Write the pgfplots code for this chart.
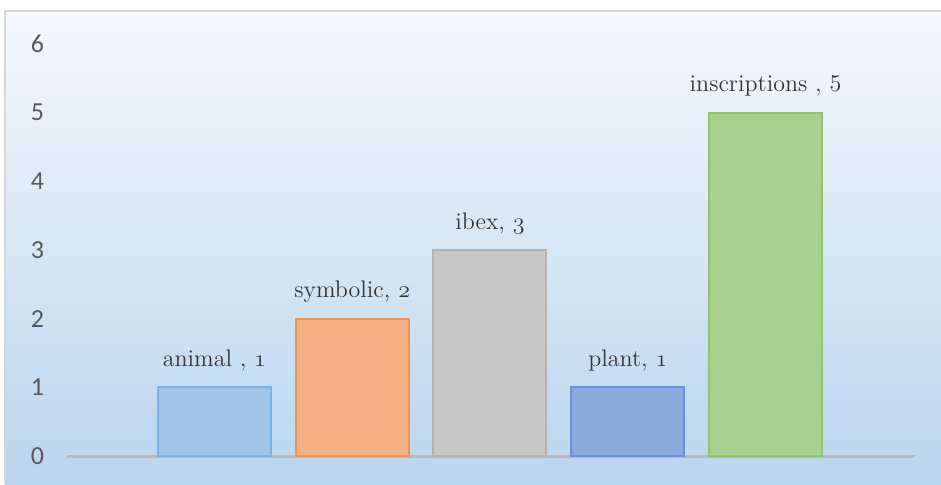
\documentclass[border=0pt]{standalone}
\usepackage{pgfplots}
\pgfplotsset{compat=1.18}
\usepackage{fontspec}
\newfontfamily\carlito{Carlito}
\newcommand{\osn}[1]{$\mathnormal{#1}$}
\definecolor{bgtop}{HTML}{F5F8FC}
\definecolor{bgbot}{HTML}{B9D5EE}
\definecolor{framec}{HTML}{D6D6D6}
\definecolor{tickc}{HTML}{595959}
\definecolor{labc}{HTML}{353535}
\definecolor{basec}{HTML}{BDB8B2}
\definecolor{aF}{HTML}{9FC4E8}\definecolor{aD}{HTML}{7EB1E3}
\definecolor{sF}{HTML}{F4B183}\definecolor{sD}{HTML}{F19451}
\definecolor{iF}{HTML}{C8C8C8}\definecolor{iD}{HTML}{B3B3B3}
\definecolor{pF}{HTML}{8EAADC}\definecolor{pD}{HTML}{6D8FDB}
\definecolor{nF}{HTML}{A9D18E}\definecolor{nD}{HTML}{8FC66D}
\begin{document}
\begin{tikzpicture}
\useasboundingbox (0,0) rectangle (470.5pt,242pt);
\fill[white] (0,0) rectangle (470.5pt,242pt);
\shade[top color=bgtop, bottom color=bgbot] (2.5pt,0) rectangle (470.5pt,236.5pt);
\draw[color=framec, line width=0.8pt] (2.5pt,0) -- (2.5pt,236.5pt) -- (470.5pt,236.5pt);
\begin{axis}[at={(33.5pt,14pt)}, anchor=south west, scale only axis,
  width=424pt, height=206pt,
  xmin=-1.07, xmax=5.085, ymin=0, ymax=6,
  ytick={0,1,2,3,4,5,6}, xtick=\empty,
  axis line style={draw=none}, major tick length=0pt,
  /pgf/number format/assume math mode=true,
  yticklabel style={font=\carlito\fontsize{13}{15}\selectfont, text=tickc, xshift=-8pt},
  clip=false, bar width=0.82, bar shift=0pt,
  nodes near coords style={font=\fontsize{12}{14}\selectfont, text=labc, yshift=4.2pt},
]
\draw[basec, line width=1.5pt] (rel axis cs:0,0) -- (rel axis cs:1,0);
\addplot[ybar, fill=aF, draw=aD, line width=1pt, nodes near coords={animal , \osn{1}}] coordinates {(0,1)};
\addplot[ybar, fill=sF, draw=sD, line width=1pt, nodes near coords={symbolic, \osn{2}}] coordinates {(1,2)};
\addplot[ybar, fill=iF, draw=iD, line width=1pt, nodes near coords={ibex, \osn{3}}] coordinates {(2,3)};
\addplot[ybar, fill=pF, draw=pD, line width=1pt, nodes near coords={plant, \osn{1}}] coordinates {(3,1)};
\addplot[ybar, fill=nF, draw=nD, line width=1pt, nodes near coords={inscriptions , 5}] coordinates {(4,5)};
\end{axis}
\end{tikzpicture}
\end{document}
